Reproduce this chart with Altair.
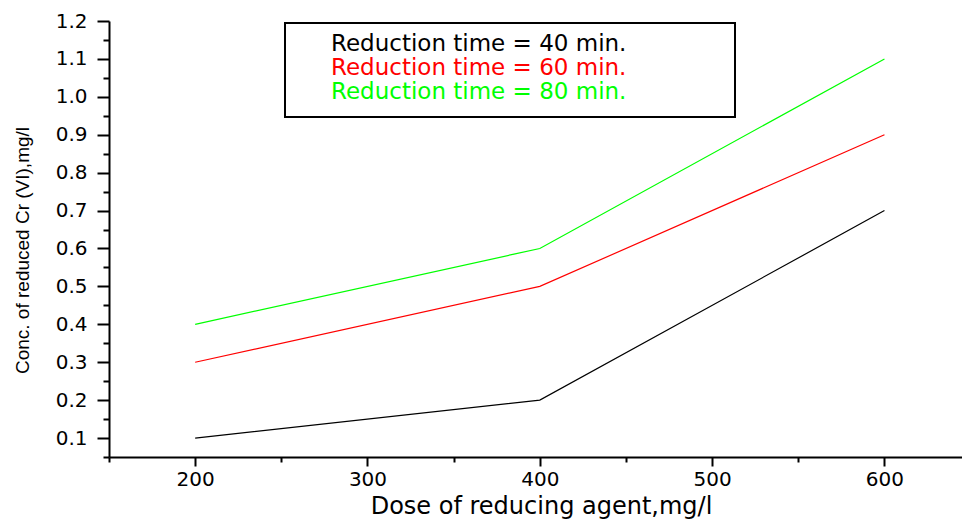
import altair as alt
import pandas as pd

# ---- data ----
doses = [200, 400, 600]
conc_40 = [0.1, 0.2, 0.7]
conc_60 = [0.3, 0.5, 0.9]
conc_80 = [0.4, 0.6, 1.1]
times = [40, 60, 80]
series_colors = ["#000000", "#ff0000", "#00ff00"]
legend_labels = ["Reduction time = 40 min.", "Reduction time = 60 min.", "Reduction time = 80 min."]

y_major = [0.1, 0.2, 0.3, 0.4, 0.5, 0.6, 0.7, 0.8, 0.9, 1.0, 1.1, 1.2]
y_minor = [0.05, 0.15, 0.25, 0.35, 0.45, 0.55, 0.65, 0.75, 0.85, 0.95, 1.05, 1.15]
x_major = [200, 300, 400, 500, 600]
x_minor = [150, 250, 350, 450, 550]

rows = []
for t, vals in zip(times, [conc_40, conc_60, conc_80]):
    for d, v in zip(doses, vals):
        rows.append({"dose": d, "conc": v, "time": t})
df = pd.DataFrame(rows)

W, H = 853, 436

y_is_major = "abs(round(datum.value*10) - datum.value*10) < 0.25"
x_is_major = "datum.value % 100 == 0"

x_axis = alt.Axis(
    values=sorted(x_major + x_minor),
    labelExpr=f"{x_is_major} ? datum.label : ''",
    tickSize={"condition": {"test": x_is_major, "value": 9}, "value": 5},
    tickWidth=2, domainWidth=2, domainColor="black", tickColor="black",
    grid=False, labelFont="DejaVu Sans", labelFontSize=20, labelColor="black",
    labelPadding=3, labelFlush=False,
    title="Dose of reducing agent,mg/l", titleFont="DejaVu Sans", titleFontSize=24,
    titleFontWeight="normal", titleColor="black",
    titleX=432, titleY=56, titleBaseline="alphabetic", titleAlign="center",
)
y_axis = alt.Axis(
    values=sorted(y_major + y_minor),
    labelExpr=f"{y_is_major} ? format(datum.value, '.1f') : ''",
    tickSize={"condition": {"test": y_is_major, "value": 12}, "value": 6},
    tickWidth=2, domainWidth=2, domainColor="black", tickColor="black",
    grid=False, labelFont="DejaVu Sans", labelFontSize=20, labelColor="black",
    labelPadding=10, labelFlush=False,
    title="Conc. of reduced Cr (VI),mg/l", titleFont="Liberation Sans", titleFontSize=19,
    titleFontWeight="normal", titleColor="black", titleAngle=270,
    titleX=-87, titleY=229, titleBaseline="middle", titleAlign="center",
)

lines = alt.Chart(df).mark_line(strokeWidth=1.2).encode(
    x=alt.X("dose:Q", scale=alt.Scale(domain=[150, 645], nice=False, zero=False), axis=x_axis),
    y=alt.Y("conc:Q", scale=alt.Scale(domain=[0.05, 1.2], nice=False, zero=False), axis=y_axis),
    color=alt.Color("time:N", scale=alt.Scale(domain=times, range=series_colors), legend=None),
    detail="time:N",
)

box = alt.Chart(pd.DataFrame({"k": [0]})).mark_rect(
    fill="white", stroke="black", strokeWidth=2
).encode(
    x=alt.value(176), x2=alt.value(626), y=alt.value(2), y2=alt.value(96)
)

layers = [lines, box]
for i, (lab, col) in enumerate(zip(legend_labels, series_colors)):
    layers.append(
        alt.Chart(pd.DataFrame({"t": [lab]})).mark_text(
            font="DejaVu Sans", fontSize=23, color=col, align="left", baseline="alphabetic"
        ).encode(text="t:N", x=alt.value(222), y=alt.value(30 + 24 * i))
    )

chart = alt.layer(*layers).properties(
    width=W, height=H,
    autosize=alt.AutoSizeParams(type="none"),
    padding={"left": 109, "top": 21, "right": 0, "bottom": 63},
    background="white",
).configure_view(stroke=None)

chart.save("out.html", embed_options={"renderer": "svg", "actions": False})
